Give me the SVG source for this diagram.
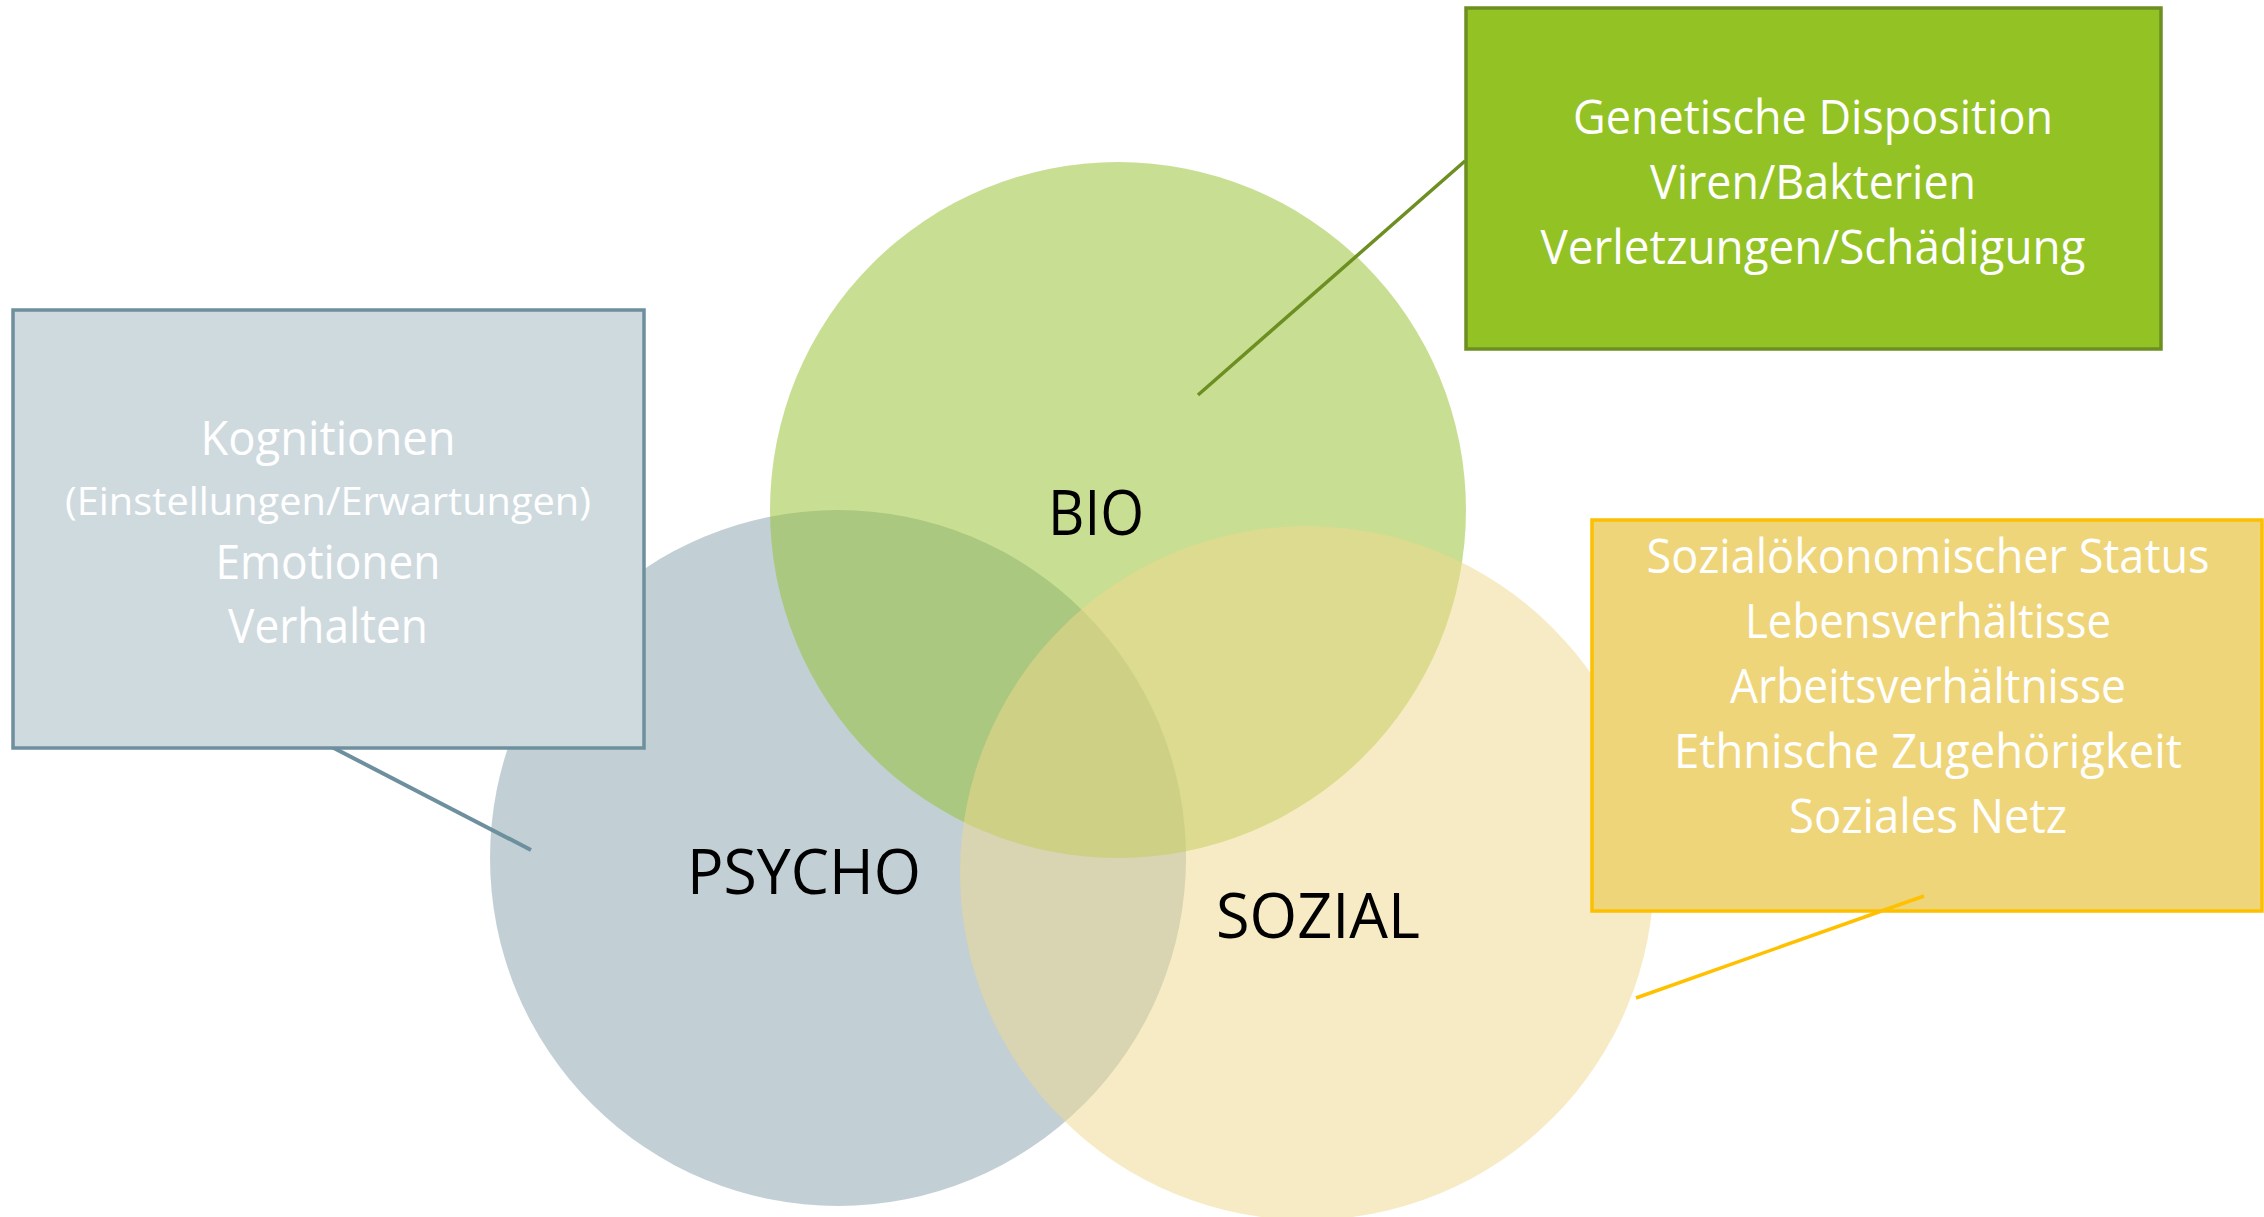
<svg xmlns="http://www.w3.org/2000/svg" width="2264" height="1217" viewBox="0 0 2264 1217">
<style>
.lbl{font-family:"Open Sans","Noto Sans","Liberation Sans",sans-serif;font-size:62px;fill:#000;text-anchor:middle}
.bt{font-family:"Open Sans","Noto Sans","Liberation Sans",sans-serif;font-size:47px;fill:#ffffff;text-anchor:middle}
.bs{font-size:39px}
.conn{fill:none;stroke-linecap:butt}
</style>
<rect width="2264" height="1217" fill="#ffffff"/>
<g id="circles">
<g id="psycho"><circle cx="838" cy="858" r="348" fill="#85a1ad" fill-opacity="0.5"/></g>
<g id="bio"><circle cx="1118" cy="510" r="348" fill="#91bf27" fill-opacity="0.5"/></g>
<g id="sozial"><circle cx="1307" cy="873" r="347" fill="#efd78b" fill-opacity="0.5"/></g>
</g>
<g id="circle-labels">
<text class="lbl" x="1096" y="535" textLength="96" lengthAdjust="spacingAndGlyphs">BIO</text>
<text class="lbl" x="804" y="894" textLength="234" lengthAdjust="spacingAndGlyphs">PSYCHO</text>
<text class="lbl" x="1318" y="938" textLength="204" lengthAdjust="spacingAndGlyphs">SOZIAL</text>
</g>
<g id="connectors">
<line class="conn" x1="1465" y1="161" x2="1198" y2="395" stroke="#6d8f22" stroke-width="3.5"/>
<line class="conn" x1="328" y1="745" x2="531" y2="850" stroke="#6d8f9e" stroke-width="4"/>
</g>
<g id="box-bio">
<rect x="1466" y="8" width="695" height="341" fill="#93c225" stroke="#6d8f22" stroke-width="3.5"/>
<text class="bt" x="1813" y="134" textLength="480" lengthAdjust="spacingAndGlyphs">Genetische Disposition</text>
<text class="bt" x="1813" y="199" textLength="326" lengthAdjust="spacingAndGlyphs">Viren/Bakterien</text>
<text class="bt" x="1813" y="264" textLength="545" lengthAdjust="spacingAndGlyphs">Verletzungen/Schädigung</text>
</g>
<g id="box-psycho">
<rect x="13" y="310" width="631" height="438" fill="#cfdadf" stroke="#6d8f9e" stroke-width="3.5"/>
<text class="bt" x="328" y="455" textLength="255" lengthAdjust="spacingAndGlyphs">Kognitionen</text>
<text class="bt bs" x="328" y="515" textLength="526" lengthAdjust="spacingAndGlyphs">(Einstellungen/Erwartungen)</text>
<text class="bt" x="328" y="579" textLength="225" lengthAdjust="spacingAndGlyphs">Emotionen</text>
<text class="bt" x="328" y="643" textLength="200" lengthAdjust="spacingAndGlyphs">Verhalten</text>
</g>
<g id="box-sozial">
<rect x="1592" y="520" width="670" height="391" fill="#efd57a" stroke="#fcc000" stroke-width="3.5"/>
<text class="bt" x="1928" y="573" textLength="563" lengthAdjust="spacingAndGlyphs">Sozialökonomischer Status</text>
<text class="bt" x="1928" y="638" textLength="366" lengthAdjust="spacingAndGlyphs">Lebensverhältisse</text>
<text class="bt" x="1928" y="703" textLength="396" lengthAdjust="spacingAndGlyphs">Arbeitsverhältnisse</text>
<text class="bt" x="1928" y="768" textLength="508" lengthAdjust="spacingAndGlyphs">Ethnische Zugehörigkeit</text>
<text class="bt" x="1928" y="833" textLength="278" lengthAdjust="spacingAndGlyphs">Soziales Netz</text>
</g>
<g id="connector-sozial">
<line class="conn" x1="1924" y1="896" x2="1636" y2="998" stroke="#ffc000" stroke-width="3.5"/>
</g>
</svg>
